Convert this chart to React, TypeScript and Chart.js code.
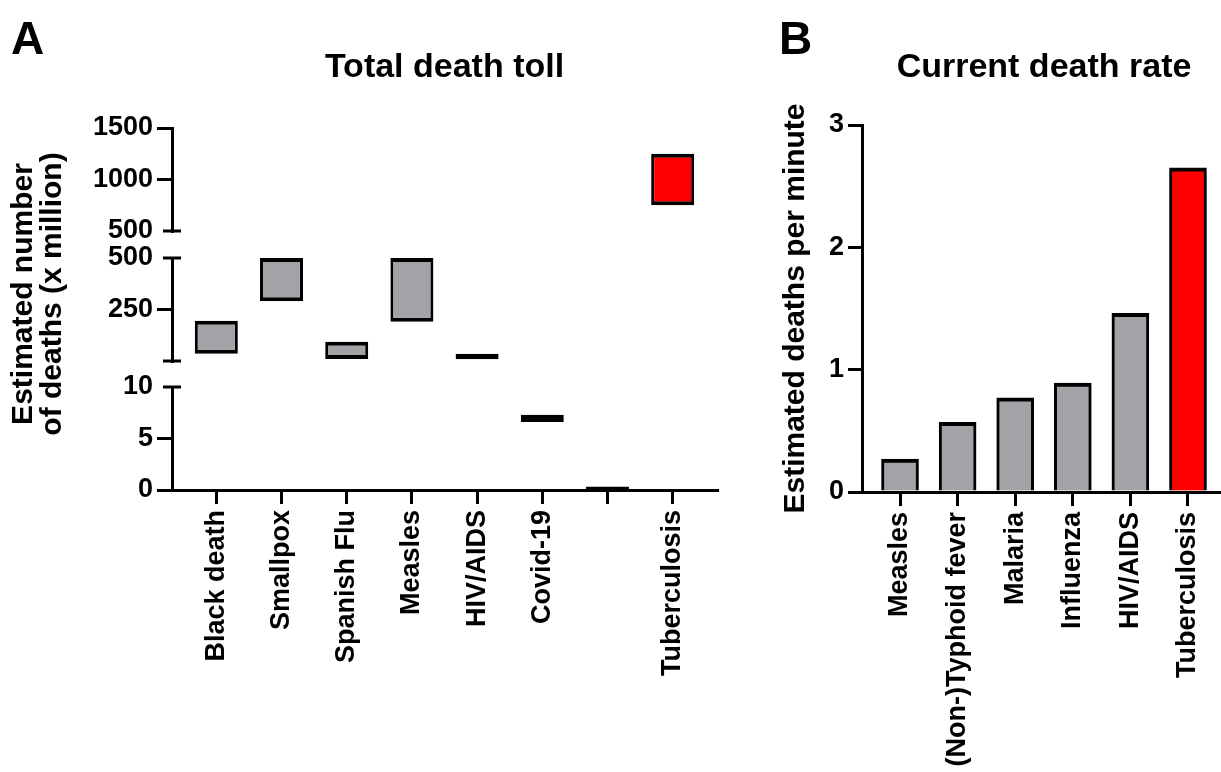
import React, { useEffect, useRef } from 'react';
import { Chart, registerables } from 'chart.js';

Chart.register(...registerables);

const FONT = "'Liberation Sans', Arial, Helvetica, sans-serif";
const GRAY = '#A3A2A7';
const RED = '#FF0000';
const BLACK = '#000000';

// ---------- Panel A: total death toll (floating ranges, x million) ----------
const categoriesA = ['Black death', 'Smallpox', 'Spanish Flu', 'Measles', 'HIV/AIDS', 'Covid-19', '', 'Tuberculosis'];
const lowA = [35, 290, 10, 190, 9, 6.6, 0.05, 750];
const highA = [195, 500, 93, 500, 35, 7.3, 0.33, 1250];
const highlightA = [false, false, false, false, false, false, false, true];

// broken y axis segments (bottom -> top)
const segmentIds = ['yBot', 'yMid', 'yTop'];
const segmentMin = [0, 0, 500];
const segmentMax = [10, 500, 1500];
const segmentTicks = [[0, 5, 10], [0, 250, 500], [500, 1000, 1500]];
const segmentTickLabels = [['0', '5', '10'], ['', '250', '500'], ['500', '1000', '1500']];
const segmentBreaks = [[10], [0, 500], [500]];

// ---------- Panel B: current death rate (deaths per minute) ----------
const categoriesB = ['Measles', '(Non-)Typhoid fever', 'Malaria', 'Influenza', 'HIV/AIDS', 'Tuberculosis'];
const valuesB = [0.27, 0.57, 0.77, 0.89, 1.46, 2.65];
const highlightB = [false, false, false, false, false, true];
const ticksB = [0, 1, 2, 3];

const tickFont = { family: FONT, size: 27, weight: 'bold' as const };

const breakCapsPlugin = {
  id: 'breakCaps',
  afterDraw(chart: any) {
    const ctx = chart.ctx;
    const left = chart.chartArea.left;
    ctx.save();
    ctx.strokeStyle = BLACK;
    ctx.lineWidth = 3;
    segmentIds.forEach((id, s) => {
      const scale = chart.scales[id];
      segmentBreaks[s].forEach((v) => {
        const y = scale.getPixelForValue(v);
        ctx.beginPath();
        ctx.moveTo(left - 9, y);
        ctx.lineTo(left + 9, y);
        ctx.stroke();
      });
    });
    ctx.restore();
  },
};

function segmentOf(i: number) {
  for (let s = 0; s < segmentIds.length; s++) {
    if (lowA[i] >= segmentMin[s] && highA[i] <= segmentMax[s]) return s;
  }
  return 1;
}

function configA(): any {
  const datasets = segmentIds.map((id, s) => {
    const idx = categoriesA.map((_, i) => i).filter((i) => segmentOf(i) === s);
    return {
      label: id,
      yAxisID: id,
      xAxisID: 'x',
      data: idx.map((i) => ({ x: i, y: [lowA[i], highA[i]] })),
      backgroundColor: idx.map((i) => (highlightA[i] ? RED : GRAY)),
      borderColor: BLACK,
      borderWidth: { top: 4, left: 3, right: 3, bottom: 4 },
      borderSkipped: false,
      inflateAmount: 0,
      barThickness: 43,
      grouped: false,
    };
  });

  const stackWeights: Record<string, number> = { yTop: 103, gap1: 27, yMid: 103, gap2: 26, yBot: 103 };
  const order: Record<string, number> = { yTop: 5, gap1: 4, yMid: 3, gap2: 2, yBot: 1 };

  const scales: any = {
    x: {
      type: 'linear',
      min: -0.68,
      max: 7.68,
      offset: false,
      z: 1,
      afterBuildTicks: (sc: any) => {
        sc.ticks = categoriesA.map((_, i) => ({ value: i }));
      },
      afterFit: (sc: any) => {
        sc.height = 282;
      },
      ticks: {
        autoSkip: false,
        minRotation: 90,
        maxRotation: 90,
        padding: 6,
        color: BLACK,
        font: tickFont,
        callback: (v: any) => categoriesA[Math.round(Number(v))] ?? '',
      },
      grid: { offset: false, drawOnChartArea: false, drawTicks: true, tickLength: 14, lineWidth: 3, color: BLACK },
      border: { display: true, width: 3, color: BLACK },
    },
  };

  segmentIds.forEach((id, s) => {
    const hidden = (ctx: any) => (ctx.tick && segmentBreaks[s].includes(ctx.tick.value) ? 'rgba(0,0,0,0)' : BLACK);
    scales[id] = {
      type: 'linear',
      position: 'left',
      stack: 'a',
      stackWeight: stackWeights[id],
      weight: order[id],
      min: segmentMin[s],
      max: segmentMax[s],
      afterBuildTicks: (sc: any) => {
        sc.ticks = segmentTicks[s].map((v) => ({ value: v }));
      },
      afterFit: (sc: any) => {
        sc.width = 80;
      },
      ticks: {
        autoSkip: false,
        padding: 4,
        color: BLACK,
        font: tickFont,
        callback: (v: any) => {
          const k = segmentTicks[s].indexOf(Number(v));
          return k >= 0 ? segmentTickLabels[s][k] : '';
        },
      },
      grid: { drawOnChartArea: false, drawTicks: true, tickLength: 15, lineWidth: 3, color: hidden, tickColor: hidden },
      border: { display: true, width: 3, color: BLACK },
    };
  });

  ['gap1', 'gap2'].forEach((id) => {
    scales[id] = {
      type: 'linear',
      position: 'left',
      stack: 'a',
      stackWeight: stackWeights[id],
      weight: order[id],
      min: 0,
      max: 1,
      afterFit: (sc: any) => {
        sc.width = 80;
      },
      ticks: { display: false },
      grid: { display: false, drawTicks: false },
      border: { display: false },
    };
  });

  return {
    type: 'bar',
    data: { datasets },
    options: {
      responsive: false,
      animation: false,
      layout: { padding: { left: 92, right: 23, top: 0, bottom: 0 } },
      plugins: {
        legend: { display: false },
        tooltip: { enabled: false },
        title: {
          display: true,
          text: 'Total death toll',
          color: BLACK,
          fullSize: false,
          font: { family: FONT, size: 34, weight: 'bold', lineHeight: 1.2 },
          padding: { top: 47.6, bottom: 39.6 },
        },
      },
      scales,
    },
    plugins: [breakCapsPlugin],
  };
}

function configB(): any {
  return {
    type: 'bar',
    data: {
      datasets: [
        {
          label: 'Current death rate',
          data: valuesB.map((v, i) => ({ x: i, y: v })),
          backgroundColor: highlightB.map((h) => (h ? RED : GRAY)),
          borderColor: BLACK,
          borderWidth: { top: 4, left: 3, right: 3, bottom: 0 },
          barThickness: 37,
          grouped: false,
        },
      ],
    },
    options: {
      responsive: false,
      animation: false,
      layout: { padding: { left: 0, right: 4, top: 0, bottom: 0 } },
      plugins: {
        legend: { display: false },
        tooltip: { enabled: false },
        title: {
          display: true,
          text: 'Current death rate',
          color: BLACK,
          fullSize: false,
          font: { family: FONT, size: 34, weight: 'bold', lineHeight: 1.2 },
          padding: { top: 47.6, bottom: 36.6 },
        },
      },
      scales: {
        x: {
          type: 'linear',
          min: -0.66,
          max: 5.66,
          offset: false,
          z: 1,
          afterBuildTicks: (sc: any) => {
            sc.ticks = categoriesB.map((_, i) => ({ value: i }));
          },
          afterFit: (sc: any) => {
            sc.height = 280;
          },
          ticks: {
            autoSkip: false,
            minRotation: 90,
            maxRotation: 90,
            padding: 6,
            color: BLACK,
            font: tickFont,
            callback: (v: any) => categoriesB[Math.round(Number(v))] ?? '',
          },
          grid: { offset: false, drawOnChartArea: false, drawTicks: true, tickLength: 14, lineWidth: 3, color: BLACK },
          border: { display: true, width: 3, color: BLACK },
        },
        y: {
          type: 'linear',
          position: 'left',
          min: 0,
          max: 3,
          afterBuildTicks: (sc: any) => {
            sc.ticks = ticksB.map((v) => ({ value: v }));
          },
          afterFit: (sc: any) => {
            sc.width = 122;
          },
          ticks: { autoSkip: false, padding: 4, color: BLACK, font: tickFont, callback: (v: any) => String(v) },
          grid: { drawOnChartArea: false, drawTicks: true, tickLength: 14, lineWidth: 3, color: BLACK },
          border: { display: true, width: 3, color: BLACK },
          title: {
            display: true,
            text: 'Estimated deaths per minute',
            color: BLACK,
            font: { family: FONT, size: 30, weight: 'bold', lineHeight: 1.2 },
            padding: { top: 38, bottom: 0 },
          },
        },
      },
    },
  };
}

export default function App() {
  const refA = useRef<HTMLCanvasElement>(null);
  const refB = useRef<HTMLCanvasElement>(null);

  useEffect(() => {
    const a = new Chart(refA.current as HTMLCanvasElement, configA());
    const b = new Chart(refB.current as HTMLCanvasElement, configB());
    return () => {
      a.destroy();
      b.destroy();
    };
  }, []);

  const letter: React.CSSProperties = {
    position: 'absolute',
    top: 15,
    fontSize: 46,
    fontWeight: 'bold',
    lineHeight: 1,
    fontFamily: FONT,
    color: BLACK,
  };

  return (
    <div
      style={{
        position: 'absolute',
        left: 0,
        top: 0,
        width: 1221,
        height: 772,
        overflow: 'hidden',
        background: '#ffffff',
        fontFamily: FONT,
      }}
    >
      <canvas ref={refA} width={740} height={772} style={{ position: 'absolute', left: 0, top: 0 }} />
      <canvas ref={refB} width={490} height={772} style={{ position: 'absolute', left: 740, top: 0 }} />
      <div style={{ ...letter, left: 11 }}>A</div>
      <div style={{ ...letter, left: 779 }}>B</div>
      <div
        style={{
          position: 'absolute',
          left: 36 - 200,
          top: 294 - 29,
          width: 400,
          height: 58,
          lineHeight: '29px',
          fontSize: 30,
          fontWeight: 'bold',
          textAlign: 'center',
          whiteSpace: 'nowrap',
          transform: 'rotate(-90deg)',
          color: BLACK,
        }}
      >
        Estimated number
        <br />
        of deaths (x million)
      </div>
    </div>
  );
}
